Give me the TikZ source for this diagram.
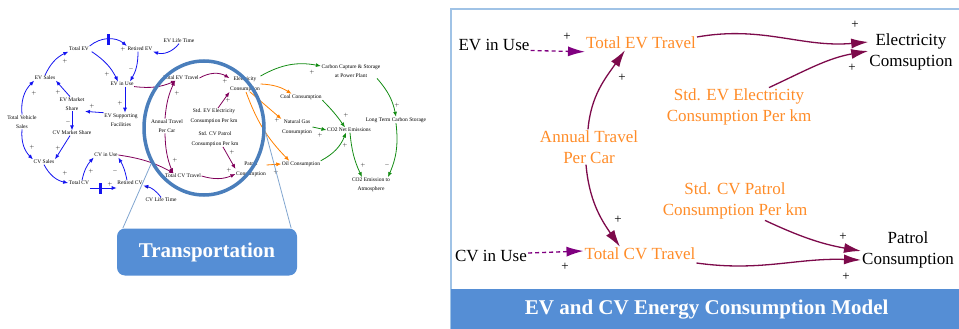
\documentclass[tikz,border=0pt]{standalone}
\usepackage{fontspec}
\setmainfont{Liberation Serif}
\usetikzlibrary{arrows.meta,shapes.geometric}

\definecolor{vblue}{RGB}{20,20,240}
\definecolor{vpurple}{RGB}{128,0,90}
\definecolor{vorange}{RGB}{255,128,0}
\definecolor{vgreen}{RGB}{20,140,20}
\definecolor{auxorange}{RGB}{255,140,40}
\definecolor{linkred}{RGB}{125,10,75}
\definecolor{dashviolet}{RGB}{128,0,128}
\definecolor{boxblue}{RGB}{85,142,213}
\definecolor{ringblue}{RGB}{74,126,187}
\definecolor{frameblue}{RGB}{160,195,230}

\begin{document}
\begin{tikzpicture}[x=1pt,y=1pt,
  var/.style={font=\fontsize{5.5}{9.5}\selectfont,align=center,inner sep=0.5pt},
  sgn/.style={font=\fontsize{5}{5}\selectfont,inner sep=0pt},
  bigvar/.style={font=\fontsize{17}{21}\selectfont,align=center,inner sep=1pt},
  auxvar/.style={bigvar,text=auxorange},
  bigsgn/.style={font=\fontsize{13}{13}\selectfont,inner sep=0pt},
  blink/.style={draw=vblue,line width=0.8pt,-{Latex[length=5pt,width=4pt]}},
  plink/.style={blink,draw=vpurple},
  olink/.style={blink,draw=vorange},
  glink/.style={blink,draw=vgreen},
  valve/.style={fill=vblue,inner sep=0pt,minimum width=2.5pt,minimum height=11pt},
  cause/.style={draw=linkred,line width=1.3pt,-{Latex[length=17pt,width=10pt]}},
  usage/.style={draw=dashviolet,line width=1.3pt,dash pattern=on 4pt off 3pt,-{Latex[length=17pt,width=10pt]}},
  bluebox/.style={fill=boxblue,text=white,font=\bfseries\fontsize{21}{21}\selectfont}]

  \useasboundingbox (0,0) rectangle (959,-329);

%small model : variables
  \node[var] (totev) at (79,-49) {Total EV};
  \node[var] (retev) at (140,-49) {Retired EV};
  \node[var] (evlife) at (179,-41) {EV Life Time};
  \node[var] (evsales) at (45,-78) {EV Sales};
  \node[var] (evshare) at (72,-104) {EV Market\\Share};
  \node[var] (evinuse) at (122,-84) {EV in Use};
  \node[var] (evfac) at (121,-120) {EV Supporting\\Facilities};
  \node[var] (totsales) at (22,-122) {Total Vehicle\\Sales};
  \node[var] (cvshare) at (72,-133) {CV Market Share};
  \node[var] (cvsales) at (44,-162) {CV Sales};
  \node[var] (totcv) at (79,-183) {Total CV};
  \node[var] (cvinuse) at (106,-155) {CV in Use};
  \node[var] (retcv) at (130,-183) {Retired CV};
  \node[var] (cvlife) at (161,-200) {CV Life Time};
  \node[var] (anntravel) at (167,-126) {Annual Travel\\Per Car};
  \node[var] (evtrav) at (181,-78) {Total EV Travel};
  \node[var] (cvtrav) at (183,-176) {Total CV Travel};
  \node[var] (evstd) at (214,-116) {Std. EV Electricity\\Consumption Per km};
  \node[var] (cvstd) at (215,-139) {Std. CV Patrol\\Consumption Per km};
  \node[var] (eleccons) at (245,-84) {Electricity\\Consumption};
  \node[var] (patcons) at (251,-169) {Patrol\\Consumption};
  \node[var] (ccs) at (351,-71) {Carbon Capture \& Storage\\at Power Plant};
  \node[var] (coal) at (301,-97) {Coal Consumption};
  \node[var] (gas) at (297,-127) {Natural Gas\\Consumption};
  \node[var] (oil) at (301,-164) {Oil Consumption};
  \node[var] (conet) at (349,-130) {CO2 Net Emissions};
  \node[var] (ltcs) at (396,-120) {Long Term Carbon Storage};
  \node[var] (coatm) at (371,-185) {CO2 Emission to\\Atmosphere};

%fleet
  \draw[blink] ([yshift=3pt]totev.east) to[bend left=40] node[valve] (vev) {} ([yshift=3pt]retev.west);
  \draw[blink] ([xshift=-2pt]retev.south) to[bend left=15] ([xshift=8pt]evinuse.north);
  \draw[blink] ([xshift=2pt]totev.south east) to[bend left=15] ([xshift=-4pt]evinuse.north);
  \draw[blink] (evlife.south) to[bend left=35] (retev.south east);
  \draw[blink] (evsales.north) to[bend left=20] (totev.south west);
  \draw[blink] ([xshift=-2pt]evshare.north) -- (evsales.south east);
  \draw[blink] (totsales.north) to[bend left=25] (evsales.south west);
  \draw[blink] (totsales.south) to[bend right=25] (cvsales.north west);
  \draw[blink] ([xshift=3pt]evinuse.south) -- ([xshift=4pt]evfac.north);
  \draw[blink] (evfac.north west) -- (evshare.south east);
  \draw[blink] (evshare.south) -- (cvshare.north);
  \draw[blink] ([xshift=-2pt]cvshare.south) -- (cvsales.north east);
  \draw[blink] (cvsales.south) to[bend right=25] (totcv.west);
  \draw[blink] ([xshift=3pt]totcv.north) to[bend left=15] (cvinuse.south west);
  \draw[blink] ([yshift=-5pt]totcv.east) -- node[valve,pos=0.4] (vcv) {} ([yshift=-5pt]retcv.west);
  \draw[blink] ([xshift=-3pt]retcv.north) to[bend right=10] (cvinuse.south east);
  \draw[blink] (cvlife.north) to[bend right=20] (retcv.south east);

%travel
  \draw[plink] (evinuse.south east) to[bend right=15] ([xshift=-5pt]evtrav.south);
  \draw[plink] (cvinuse.east) to[bend left=10] ([xshift=-9pt]cvtrav.north);
  \draw[plink] ([xshift=-2pt]anntravel.north) to[bend left=10] ([xshift=-6pt]evtrav.south);
  \draw[plink] ([xshift=-2pt]anntravel.south) to[bend right=10] ([xshift=-10pt]cvtrav.north);
  \draw[plink] (evtrav.east) to[bend left=30] ([yshift=-2pt]eleccons.north west);
  \draw[plink] ([xshift=4pt]evstd.north) -- (eleccons.south west);
  \draw[plink] ([xshift=8pt]cvstd.south) -- (patcons.west);
  \draw[plink] (cvtrav.east) to[bend right=20] ([yshift=-5pt]patcons.west);

%energy
  \draw[olink] (eleccons.east) to[bend left=15] ([xshift=12pt]coal.north west);
  \draw[olink] ([xshift=5pt]eleccons.south) -- (gas.north west);
  \draw[olink] ([xshift=1pt]eleccons.south) to[bend right=12] ([xshift=8pt]oil.north west);
  \draw[olink] ([yshift=4pt]patcons.east) -- (oil.west);

%emissions
  \draw[glink] (eleccons.north east) to[bend left=20] ([yshift=5pt]ccs.west);
  \draw[glink] (coal.south east) to[bend left=5] ([xshift=-4pt]conet.north);
  \draw[glink] (gas.east) -- (conet.west);
  \draw[glink] (oil.north east) to[bend right=20] ([xshift=-3pt]conet.south);
  \draw[glink] ([xshift=26pt]ccs.south) to[bend left=15] (ltcs.north);
  \draw[glink] (ltcs.south) to[bend left=15] ([xshift=17pt]coatm.north);
  \draw[glink] ([xshift=1pt]conet.south) to[bend right=10] ([xshift=-9pt]coatm.north);

  \foreach \x/\y/\s [count=\i] in {123/49/+, 65/61/+, 58/92/+, 34/93/+, 107/74/+, 131/69/-,
      120/103/+, 92/106/+, 68/122/-, 32/147/+, 58/148/+, 65/173/+, 91/171/+, 110/184/+,
      115/171/-, 147/188/-, 177/93/+, 175/160/+, 225/81/+, 228/100/+, 232/152/+, 229/170/+,
      312/72/+, 277/120/+, 320/135/+, 346/115/+, 345/145/+, 397/105/+, 387/165/-, 363/165/+, 276/172/+}
    \node[sgn] (s\i) at (\x,-\y) {$\s$};

%zoom on the transport part
  \node[draw=ringblue,line width=3.5pt,ellipse,minimum width=120pt,minimum height=134pt,inner sep=0pt] (ring) at (204,-128) {};
  \node[bluebox,rounded corners=8pt,minimum width=180pt,minimum height=47pt] (trans) at (207,-252) {Transportation};
  \draw[ringblue!70,line width=0.8pt] (ring.214) -- ([xshift=6pt]trans.north west);
  \draw[ringblue!70,line width=0.8pt] (ring.-4) -- ([xshift=-6pt]trans.north east);

%big model
  \draw[frameblue,line width=1.5pt] (451,-330) rectangle (962,-9);
  \node[bluebox,anchor=north west,minimum width=511pt,minimum height=41pt,inner sep=0pt] (banner) at (451,-289) {EV and CV Energy Consumption Model};

  \node[bigvar] (evuse) at (494,-45) {EV in Use};
  \node[auxvar] (evtravel) at (641,-43) {Total EV Travel};
  \node[auxvar] (annual) at (589,-147) {Annual Travel\\Per Car};
  \node[bigvar] (cvuse) at (491,-256) {CV in Use};
  \node[auxvar] (cvtravel) at (640,-254) {Total CV Travel};
  \node[auxvar] (stdev) at (739,-107) {Std. EV Electricity\\Consumption Per km};
  \node[auxvar] (stdcv) at (735,-201) {Std. CV Patrol\\Consumption Per km};
  \node[bigvar] (elec) at (911,-52) {Electricity\\Comsuption};
  \node[bigvar] (patrol) at (908,-250) {Patrol\\Consumption};

  \draw[usage] (evuse.base east) -- ([yshift=-3pt]evtravel.base west);
  \draw[usage] ([yshift=3pt]cvuse.east) -- ([yshift=3pt]cvtravel.west);
  \draw[cause] ([xshift=-1pt]annual.north) to[out=85,in=235] ([xshift=-16pt]evtravel.south);
  \draw[cause] ([xshift=-3pt]annual.south) to[out=-85,in=125] ([xshift=-20pt]cvtravel.north);
  \draw[cause] ([yshift=6pt]evtravel.east) to[out=10,in=185] ([yshift=10pt]elec.west);
  \draw[cause] ([xshift=30pt]stdev.north) to[out=25,in=190] ([yshift=1pt]elec.west);
  \draw[cause] ([xshift=30pt]stdcv.south) to[out=-25,in=170] ([yshift=-1pt]patrol.west);
  \draw[cause] ([yshift=-9pt]cvtravel.east) to[out=-8,in=178] ([yshift=-10pt]patrol.west);

  \foreach \x/\y [count=\i] in {567/37, 622/78, 618/220, 565/267, 855/25, 852/68, 843/237, 846/277}
    \node[bigsgn] (r\i) at (\x,-\y) {+};

\end{tikzpicture}
\end{document}
